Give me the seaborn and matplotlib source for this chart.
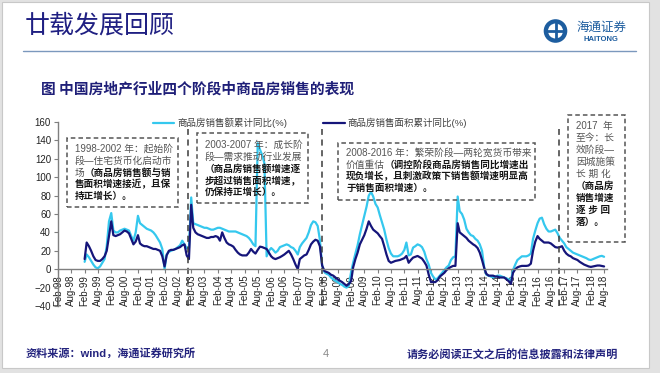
import pandas as pd
import numpy as np
import matplotlib
matplotlib.use("Agg")
import matplotlib.pyplot as plt
from matplotlib.patches import Rectangle, Circle
import seaborn as sns

W, H = 660, 373

# monthly cumulative YoY (%), Feb-1999 .. Aug-2018
dates = pd.date_range("1999-02-01", "2018-08-01", freq="MS")

amount_yoy = (
    [8, 16, 13, 9, 5, 2, 1, 3, 7, 11, 25]                          # 1999 Feb-Dec
    + [52, 61, 42, 40, 40, 42, 43, 44, 43, 42, 36, 31]             # 2000
    + [40, 58, 50, 48, 46, 44, 43, 42, 40, 37, 33, 29]             # 2001
    + [22, 0, 16, 19, 20, 21, 22, 24, 26, 31, 27, 23]              # 2002
    + [23, 78, 50, 49, 48, 47, 46, 45, 45, 44, 43, 43]             # 2003
    + [44, 45, 45, 44, 43, 42, 41, 41, 41, 41, 40, 39]             # 2004
    + [38, 37, 36, 34, 31, 27, 25, 137, 130, 124, 115, 14]         # 2005
    + [20, 23, 21, 18, 20, 24, 25, 26, 27, 26, 24, 23]             # 2006
    + [20, 16, 24, 28, 31, 34, 40, 48, 52, 51, 47, 32]             # 2007
    + [4, -3, -5, -6, -9, -11, -12.6, -14, -16, -17, -19, -20]     # 2008
    + [-18, -3, 7, 17, 26, 38, 48, 58, 68, 80, 84, 79]             # 2009
    + [71, 67, 59, 51, 43, 32, 23, 17, 14, 14, 14, 15]             # 2010
    + [17, 21, 29, 15, 16, 23.5, 25, 27, 26, 24, 19, 11]           # 2011
    + [5, -4, -8, -11, -10, -7, -4, -1, 2, 4, 10, 13]              # 2012
    + [14, 79, 63, 60, 54, 44, 40, 37, 36, 33, 31, 27]             # 2013
    + [20, 1, -6, -7, -8, -9, -8, -7, -7, -8, -9, -10]             # 2014
    + [-11, -12.6, -1, 5, 10, 12, 14, 14, 14, 15, 17, 33]          # 2015
    + [42, 50, 55, 56, 49, 44, 41, 41, 42, 43, 39, 34]             # 2016
    + [31, 28, 24, 22, 20, 18, 17, 16, 15, 14, 13, 12]             # 2017
    + [10.5, 10, 11, 12, 13, 14, 14.5, 13.5]                       # 2018 Jan-Aug
)

area_yoy = (
    [11, 29, 25, 20, 14, 10, 9, 9, 11, 14, 20]                     # 1999 Feb-Dec
    + [36, 52, 37, 36, 37, 38, 40, 42, 41, 39, 33, 27]             # 2000
    + [30, 37, 28, 26, 25, 25, 24, 23, 22, 22, 21, 20]             # 2001
    + [14, 3, 15, 20, 21, 21, 22, 23, 24, 26, 27, 15]              # 2002
    + [11, 70, 45, 40, 38, 37, 36, 35, 34, 34, 35, 35]             # 2003
    + [36, 35, 31, 40, 34, 29, 27, 26, 24.5, 21, 18, 16]           # 2004
    + [15, 15, 15, 18, 22, 19, 17, 21, 24.5, 24, 23, 22]           # 2005
    + [18, 14, 12, 11, 12, 13, 14.4, 16, 18, 20, 16, 11]           # 2006
    + [5, 0, 11, 13, 15, 16, 21, 27, 30, 32, 31, 25]               # 2007
    + [4, -2, -3, -4, -6, -7, -9, -11, -12.6, -14, -16, -18]       # 2008
    + [-16, -13, 2, 11, 18, 27, 32, 37, 44, 52, 47, 43]            # 2009
    + [41, 39, 36, 33, 25, 16, 9, 7, 8, 9, 9.5, 10]                # 2010
    + [11, 12, 14.4, 7, 10, 12.6, 13.5, 14.4, 13, 11.5, 8, 4]      # 2011
    + [-6, -14, -14, -14, -12, -8, -6, -4, -1, 1, 2.5, 3.6]        # 2012
    + [3.6, 50, 40, 38, 36, 34, 31, 29, 27, 25.5, 23, 18]          # 2013
    + [10, 1, -5, -7, -7, -7, -8, -8, -9, -9, -9, -11]             # 2014
    + [-13, -16, -4, 0, 2, 3, 3.6, 3.6, 3.6, 4, 6, 20]             # 2015
    + [30, 36, 33, 31, 29, 29, 29, 28, 26, 24, 23.5, 24]           # 2016
    + [25, 20, 17, 15, 14, 12, 11, 10, 8, 6.5, 5, 4]               # 2017
    + [3, 2.5, 3, 3.6, 4, 4, 3.5, 3]                               # 2018 Jan-Aug
)

series_names = ["商品房销售额累计同比(%)", "商品房销售面积累计同比(%)"]
series_colors = ["#35c8ee", "#15157a"]

stage_breaks = pd.to_datetime(["2002-12-15", "2007-12-25", "2016-11-25"])

CJK = ["Noto Sans CJK SC"]
MIX = ["Liberation Sans", "Noto Sans CJK SC"]

df = pd.DataFrame({
    "date": np.concatenate([dates, dates]),
    "value": amount_yoy + area_yoy,
    "series": [series_names[0]] * len(dates) + [series_names[1]] * len(dates),
})

sns.set_style("ticks")
plt.rcParams["font.family"] = MIX

fig = plt.figure(figsize=(6.6, 3.73), dpi=100)
fig.patch.set_facecolor("#e2e2e2")
fig.add_artist(Rectangle((2 / W, 1 - 368 / H), 647 / W, 366 / H, transform=fig.transFigure,
                         facecolor="white", edgecolor="#c8c8c8", lw=0.8, zorder=-5))


def px(x, y):
    return x / W, 1 - y / H


# header
fig.text(*px(25, 26), "廿载发展回顾", family=CJK, fontsize=18, color="#1f1f82", va="center")
fig.add_artist(plt.Line2D([23 / W, 636 / W], [1 - 50.5 / H] * 2, color="#7b98bd", lw=1.0,
                          transform=fig.transFigure))
fig.text(*px(41, 88), "图 中国房地产行业四个阶段中商品房销售的表现", family=CJK, fontsize=10.6,
         fontweight="bold", color="#1f1f78", va="center")

# logo
cx, cy = 5.555, (H - 31) / 100
fig.add_artist(Circle((cx, cy), 0.118, transform=fig.dpi_scale_trans, facecolor="#1d5d9f", edgecolor="none"))
fig.add_artist(Circle((cx, cy), 0.075, transform=fig.dpi_scale_trans, facecolor="white", edgecolor="none"))
fig.add_artist(plt.Line2D([cx - 0.085, cx + 0.085], [cy] * 2, color="#1d5d9f", lw=2,
                          transform=fig.dpi_scale_trans))
fig.add_artist(plt.Line2D([cx] * 2, [cy - 0.085, cy + 0.085], color="#1d5d9f", lw=2,
                          transform=fig.dpi_scale_trans))
fig.text(*px(577, 27), "海通证券", family=CJK, fontsize=9, color="#1d5d9f", va="center", style="italic")
fig.text(*px(583, 39.5), "HAITONG", family=["Liberation Sans"], fontsize=5.5, fontweight="bold",
         color="#1d5d9f", va="center")

# chart
ax = fig.add_axes([58 / W, 1 - 306 / H, 549 / W, 184 / H])
sns.lineplot(data=df, x="date", y="value", hue="series", hue_order=series_names,
             palette=series_colors, linewidth=1.6, legend=False, ax=ax)

ax.set_xlim(pd.Timestamp("1998-02-01"), pd.Timestamp("2018-09-10"))
ax.set_ylim(-40, 160)
ax.set_yticks(range(-40, 161, 20))
xt = pd.date_range("1998-02-01", "2018-08-01", freq="6MS")
ax.set_xticks(xt)
ax.set_xticklabels([d.strftime("%b-%y") for d in xt])
ax.set_xlabel("")
ax.set_ylabel("")
ax.spines["bottom"].set_position(("data", 0))
for s in ["top", "right"]:
    ax.spines[s].set_visible(False)
for s in ["left", "bottom"]:
    ax.spines[s].set_color("#7f7f7f")
    ax.spines[s].set_linewidth(1.0)
ax.tick_params(axis="x", rotation=90, labelsize=7, length=3, pad=1, color="#7f7f7f", labelcolor="#222222")
ax.tick_params(axis="y", labelsize=7, length=3, pad=2, color="#7f7f7f", labelcolor="#222222")
ax.patch.set_alpha(0)

ax.vlines(stage_breaks, -40, 152, colors="#3a3a3a", linestyles=(0, (4, 3)), linewidth=1.1, clip_on=False)

leg = ax.legend(ax.lines[:2], series_names, ncol=2, loc="center", bbox_to_anchor=(0.459, 0.995),
                frameon=False, prop={"family": MIX, "size": 6.8}, handlelength=2.3,
                handletextpad=0.3, columnspacing=3.8)
for t in leg.get_texts():
    t.set_color("#404040")

# stage boxes
boxes = [
    (67, 138, 178, 207),
    (197, 133, 308, 203),
    (338, 143, 535, 200),
    (568, 115, 625, 242),
]
for x0, y0, x1, y1 in boxes:
    fig.add_artist(Rectangle((x0 / W, 1 - y1 / H), (x1 - x0) / W, (y1 - y0) / H, transform=fig.transFigure,
                             fill=False, edgecolor="#555555", linestyle=(0, (3, 2)), lw=1.1))

box_texts = [
    (75, 149, 11.8, [
        [("1998-2002 年：起始阶", False)],
        [("段—住宅货币化启动市", False)],
        [("场", False), ("（商品房销售额与销", True)],
        [("售面积增速接近，且保", True)],
        [("持正增长）。", True)],
    ]),
    (205, 145, 11.8, [
        [("2003-2007 年：成长阶", False)],
        [("段—需求推动行业发展", False)],
        [("（商品房销售额增速逐", True)],
        [("步超过销售面积增速，", True)],
        [("仍保持正增长）。", True)],
    ]),
    (346, 153, 11.6, [
        [("2008-2016 年：繁荣阶段—两轮宽货币带来", False)],
        [("价值重估", False), ("（调控阶段商品房销售同比增速出", True)],
        [("现负增长，且刺激政策下销售额增速明显高", True)],
        [("于销售面积增速）。", True)],
    ]),
    (576, 126, 12.0, [
        [("2017  年", False)],
        [("至今：长", False)],
        [("效阶段—", False)],
        [("因城施策", False)],
        [("长 期 化", False)],
        [("（商品房", True)],
        [("销售增速", True)],
        [("逐 步 回", True)],
        [("落）。", True)],
    ]),
]

renderer = fig.canvas.get_renderer()
for bx, by, step, lines in box_texts:
    for i, segs in enumerate(lines):
        x = bx
        for text, bold in segs:
            t = fig.text(*px(x, by + i * step), text, family=MIX, fontsize=6.9 if bold else 7.0,
                         va="center", ha="left", fontweight="bold" if bold else "normal",
                         color="#151515" if bold else "#555555")
            x = t.get_window_extent(renderer).x1

# footer
fig.text(*px(26, 353), "资料来源：wind，海通证券研究所", family=MIX, fontsize=8, fontweight="bold",
         color="#24247e", va="center")
fig.text(*px(323, 354), "4", family=["Liberation Sans"], fontsize=8, color="#888888", va="center")
fig.text(*px(407, 355), "请务必阅读正文之后的信息披露和法律声明", family=CJK, fontsize=8, fontweight="bold",
         color="#24247e", va="center")

fig.savefig("out.png", dpi=100)
